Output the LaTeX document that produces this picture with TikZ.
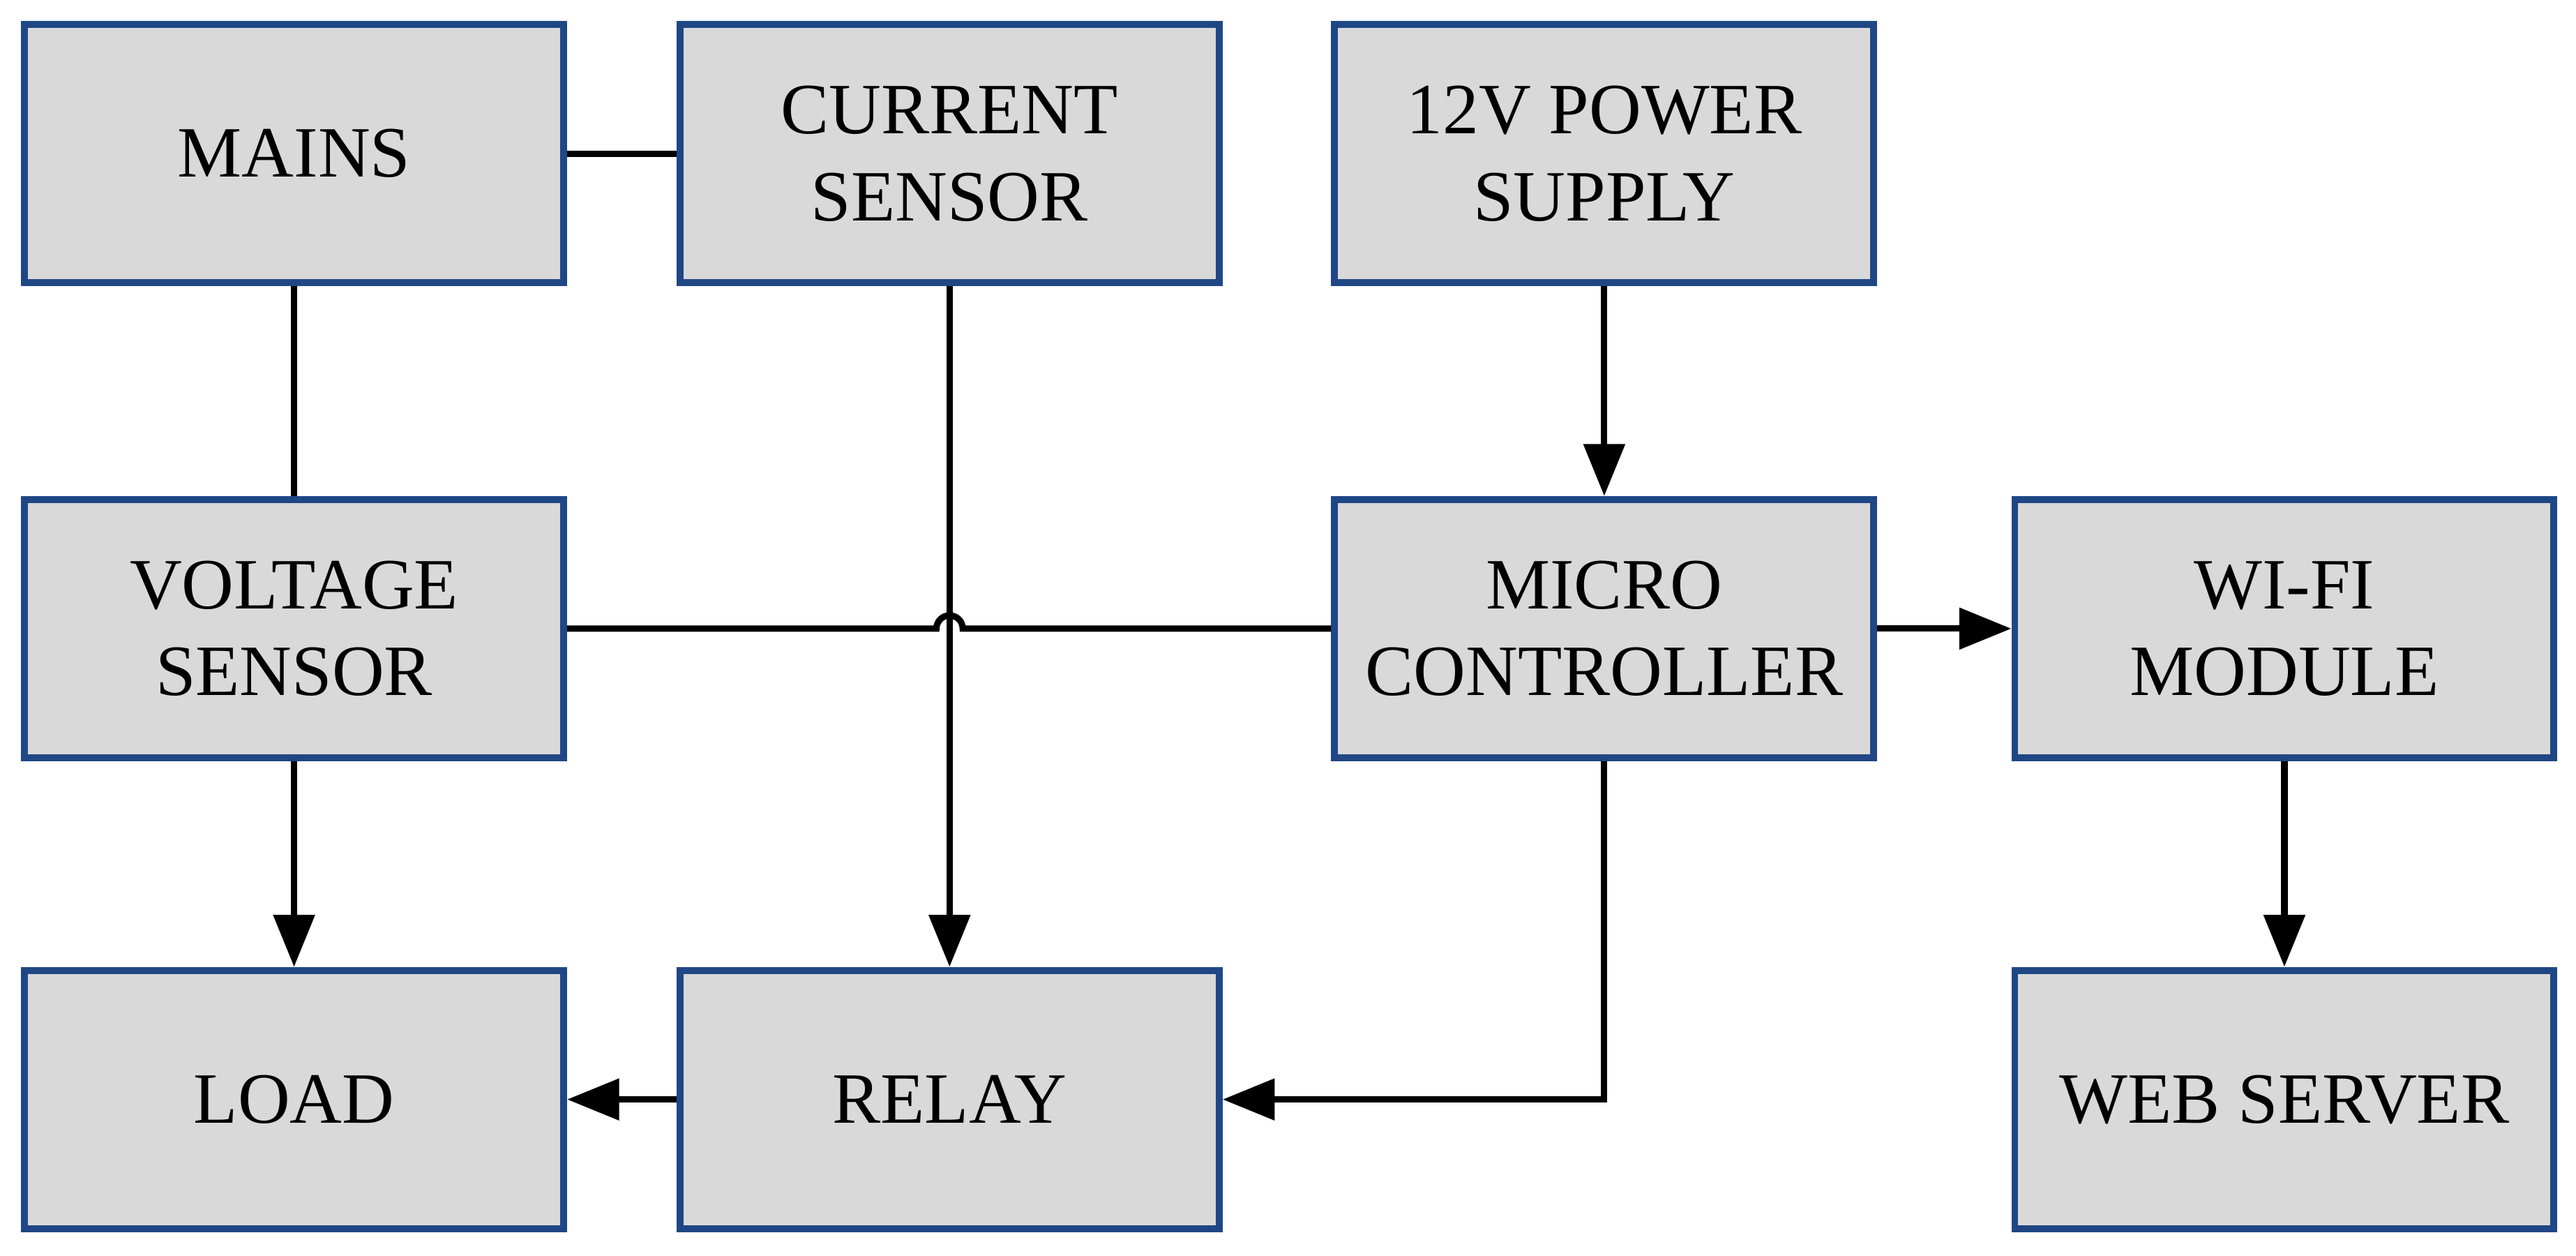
\documentclass[tikz,border=0pt]{standalone}
\usepackage{fontspec}
\setmainfont{Liberation Serif}
\usetikzlibrary{arrows.meta}
\definecolor{bord}{HTML}{1F4785}
\begin{document}
\begin{tikzpicture}[x=0.01cm,y=-0.01cm,
  box/.style={draw=bord,line width=1.2pt,fill=black!15,minimum width=3.28cm,minimum height=1.57cm,align=center,font=\fontsize{12.5}{15}\selectfont,inner sep=0pt},
  ln/.style={line width=1.1pt},
  ar/.style={ln,-{Triangle[length=9pt,width=7pt]}}]
\useasboundingbox (0,0) rectangle (1568,764);
\node[box] (mains) at (179,93.5) {MAINS};
\node[box] (cur) at (578,93.5) {CURRENT\\SENSOR};
\node[box] (ps) at (976.5,93.5) {12V POWER\\SUPPLY};
\node[box] (volt) at (179,382.5) {VOLTAGE\\SENSOR};
\node[box] (mcu) at (976.5,382.5) {MICRO\\CONTROLLER};
\node[box] (wifi) at (1390.5,382.5) {WI-FI\\MODULE};
\node[box] (load) at (179,669) {LOAD};
\node[box] (relay) at (578,669) {RELAY};
\node[box] (web) at (1390.5,669) {WEB SERVER};
\coordinate (hopa) at (570,382.5);
\coordinate (corner) at (mcu.south |- relay.east);
\draw[ln] (mains) -- (cur);
\draw[ln] (mains) -- (volt);
\draw[ar] (cur) -- (relay);
\draw[ln] (volt.east) -- (hopa) arc[start angle=180,end angle=360,radius=8] -- (mcu.west);
\draw[ar] (ps) -- (mcu);
\draw[ar] (mcu) -- (wifi);
\draw[ar] (wifi) -- (web);
\draw[ar] (volt) -- (load);
\draw[ar] (relay) -- (load);
\draw[ar] (mcu.south) -- (corner) -- (relay.east);
\end{tikzpicture}
\end{document}
